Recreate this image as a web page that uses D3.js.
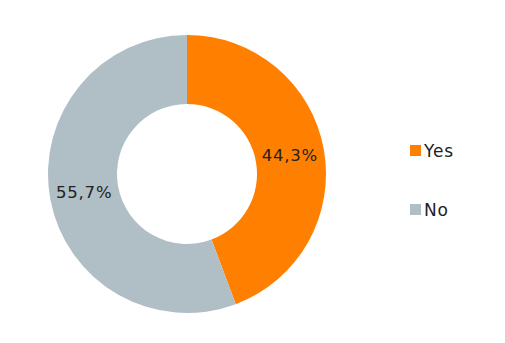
<!DOCTYPE html>
<html>
<head>
<meta charset="utf-8">
<script src="https://cdn.jsdelivr.net/npm/d3@7"></script>
<style>
  body { margin: 0; background: #fff; }
  text { font-family: "DejaVu Sans", sans-serif; fill: #222; letter-spacing: 0.8px; }
</style>
</head>
<body>
<svg id="chart" width="505" height="343"></svg>
<script>
const categories = ["Yes", "No"];
const values = [44.3, 55.7];
const colors = ["#FF8000", "#B0BEC5"];

const svg = d3.select("#chart");
const cx = 187, cy = 174, outerR = 139, innerR = 70;

const pie = d3.pie().sort(null).value(d => d);
const arc = d3.arc().innerRadius(innerR).outerRadius(outerR);
const color = d3.scaleOrdinal().domain(categories).range(colors);

const g = svg.append("g").attr("transform", `translate(${cx},${cy})`);
const arcs = pie(values);

g.selectAll("path")
  .data(arcs)
  .join("path")
  .attr("d", arc)
  .attr("fill", (d, i) => color(categories[i]));

g.selectAll("text.label")
  .data(arcs)
  .join("text")
  .attr("class", "label")
  .attr("transform", d => `translate(${arc.centroid(d)})`)
  .attr("text-anchor", "middle")
  .attr("dominant-baseline", "central")
  .style("font-size", "16.5px")
  .text(d => d.value.toFixed(1).replace(".", ",") + "%");

// legend
const legend = svg.append("g").attr("transform", "translate(410,145)");
const item = legend.selectAll("g")
  .data(categories)
  .join("g")
  .attr("transform", (d, i) => `translate(0,${i * 59})`);
item.append("rect")
  .attr("width", 11).attr("height", 11)
  .attr("fill", d => color(d));
item.append("text")
  .attr("x", 14).attr("y", 5.5)
  .attr("dominant-baseline", "central")
  .style("font-size", "17px")
  .text(d => d);
</script>
</body>
</html>
